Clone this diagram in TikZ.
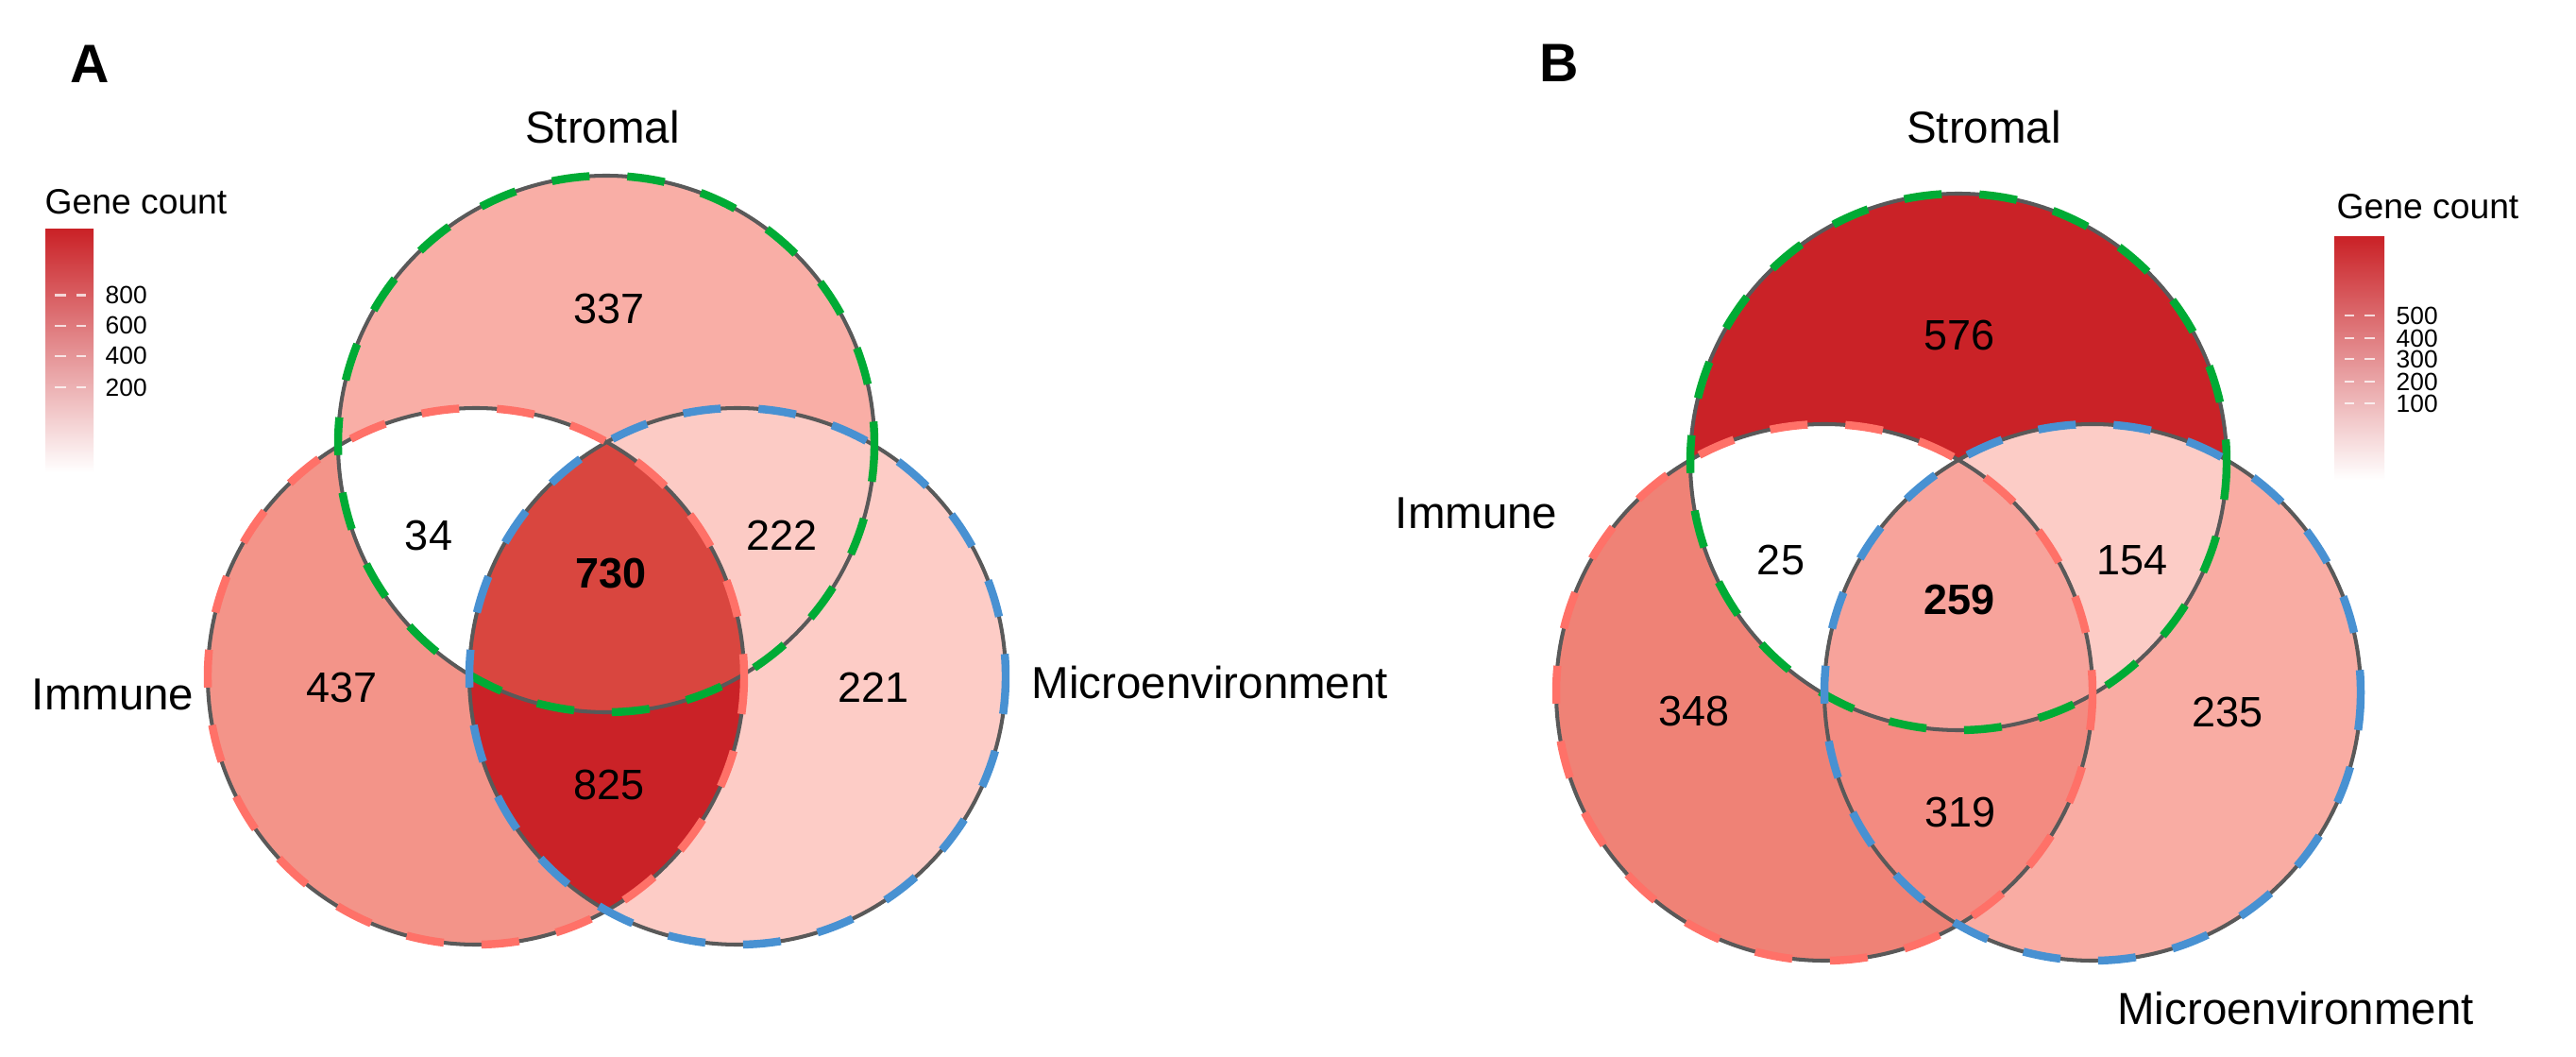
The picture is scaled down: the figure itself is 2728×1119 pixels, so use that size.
\documentclass[tikz,border=0pt]{standalone}
\usepackage{fontspec}
\setmainfont{Liberation Sans}
\usetikzlibrary{calc}

\definecolor{edgegrey}{HTML}{595959}
\definecolor{strgreen}{HTML}{00AB35}
\definecolor{immred}{HTML}{FF7168}
\definecolor{micblue}{HTML}{4891D2}
\definecolor{countmax}{HTML}{CA2227}
\definecolor{countmid}{HTML}{F08C82}
% region fills, panel A
\definecolor{aS}{HTML}{F9AEA6}
\definecolor{aI}{HTML}{F39489}
\definecolor{aM}{HTML}{FDCCC6}
\definecolor{aSM}{HTML}{FCCBC5}
\definecolor{aIM}{HTML}{CA2227}
\definecolor{aSIM}{HTML}{D9463F}
% region fills, panel B
\definecolor{bS}{HTML}{CA2227}
\definecolor{bI}{HTML}{EF8276}
\definecolor{bM}{HTML}{F9ACA3}
\definecolor{bSM}{HTML}{FCCCC6}
\definecolor{bIM}{HTML}{F38B81}
\definecolor{bSIM}{HTML}{F7A39B}

\def\fsize#1{\fontsize{#1}{#1}\selectfont}

\tikzset{
  rim/.style={draw=edgegrey, line width=1.15pt},
  rimdash/.style={draw=#1, line width=2.4pt, dash pattern=on 0.4cm off 0.4cm},
  setlabel/.style={font=\fsize{13.5}, inner sep=0pt},
  count/.style={font=\fsize{12.8}, inner sep=0pt},
  panel/.style={font=\bfseries\fsize{16.3}, inner sep=0pt},
  legtitle/.style={font=\fsize{10.6}, inner sep=0pt},
  ticklab/.style={font=\fsize{7.5}, anchor=west, inner sep=0pt},
  tickmark/.style={draw=white, line width=0.6pt, opacity=0.75}
}

\begin{document}
\begin{tikzpicture}[x=0.01cm, y=-0.01cm]
			%%%%% START %%%%%
			\fill[white] (0,0) rectangle (2728,1119);
			\useasboundingbox (0,0) rectangle (2728,1119);

			%%%%% PANEL A %%%%%
			\coordinate (sA) at (642,470);
			\coordinate (iA) at (504,716);
			\coordinate (mA) at (781,716);

			\fill[aS] (sA) circle (284);
			\fill[aI] (iA) circle (284);
			\fill[aM] (mA) circle (284);
			\begin{scope}
				\clip (iA) circle (284);
				\fill[aIM] (mA) circle (284);
			\end{scope}
			\begin{scope}
				\clip (sA) circle (284);
				\fill[white] (iA) circle (284);
				\fill[aSM] (mA) circle (284);
				\clip (iA) circle (284);
				\fill[aSIM] (mA) circle (284);
			\end{scope}

			\draw[rim] (sA) circle (284) (iA) circle (284) (mA) circle (284);
			\draw[rimdash=strgreen] (sA) circle (284);
			\draw[rimdash=immred] (iA) circle (284);
			\draw[rimdash=micblue] (mA) circle (284);

			\node[panel] (labA) at (95,68) {A};
			\node[setlabel] (strA) at (638,135) {Stromal};
			\node[setlabel, anchor=east] (immA) at (206,735) {Immune};
			\node[setlabel, anchor=west] (micA) at (1092,723) {Microenvironment};

			\node[count] (nA337) at (645,327) {337};
			\node[count] (nA34) at (454,567) {34};
			\node[count, font=\bfseries\fsize{12.8}] (nA730) at (647,607) {730};
			\node[count] (nA222) at (828,567) {222};
			\node[count] (nA437) at (362,728) {437};
			\node[count] (nA221) at (925,728) {221};
			\node[count] (nA825) at (645,831) {825};

			% legend A
			\node[legtitle] (legA) at (144,214) {Gene count};
			\shade[bottom color=white, middle color=countmid, top color=countmax] (48,243) rectangle (99,500);
			\foreach \yy/\lab in {312.5/800, 344.6/600, 376.8/400, 410/200}{
				\draw[tickmark] (58,\yy) -- (70,\yy) (81,\yy) -- (91,\yy);
				\node[ticklab] (tA\lab) at (111,\yy) {\lab};
			}

			%%%%% PANEL B %%%%%
			\coordinate (sB) at (2074,489);
			\coordinate (iB) at (1932,733);
			\coordinate (mB) at (2216,733);

			\fill[bS] (sB) circle (284);
			\fill[bI] (iB) circle (284);
			\fill[bM] (mB) circle (284);
			\begin{scope}
				\clip (iB) circle (284);
				\fill[bIM] (mB) circle (284);
			\end{scope}
			\begin{scope}
				\clip (sB) circle (284);
				\fill[white] (iB) circle (284);
				\fill[bSM] (mB) circle (284);
				\clip (iB) circle (284);
				\fill[bSIM] (mB) circle (284);
			\end{scope}

			\draw[rim] (sB) circle (284) (iB) circle (284) (mB) circle (284);
			\draw[rimdash=strgreen] (sB) circle (284);
			\draw[rimdash=immred] (iB) circle (284);
			\draw[rimdash=micblue] (mB) circle (284);

			\node[panel] (labB) at (1651,67) {B};
			\node[setlabel] (strB) at (2101,135) {Stromal};
			\node[setlabel, anchor=east] (immB) at (1650,543) {Immune};
			\node[setlabel] (micB) at (2431,1068) {Microenvironment};

			\node[count] (nB576) at (2075,355) {576};
			\node[count] (nB25) at (1886,593) {25};
			\node[count, font=\bfseries\fsize{12.8}] (nB259) at (2075,635) {259};
			\node[count] (nB154) at (2258,593) {154};
			\node[count] (nB348) at (1794,753) {348};
			\node[count] (nB235) at (2359,754) {235};
			\node[count] (nB319) at (2076,860) {319};

			% legend B
			\node[legtitle] (legB) at (2571,219) {Gene count};
			\shade[bottom color=white, middle color=countmid, top color=countmax] (2472,251) rectangle (2525,508);
			\foreach \yy/\lab in {334/500, 358/400, 380/300, 404/200, 427/100}{
				\draw[tickmark] (2483,\yy) -- (2493,\yy) (2504,\yy) -- (2515,\yy);
				\node[ticklab] (tB\lab) at (2537,\yy) {\lab};
			}
			%%%%% END %%%%%
\end{tikzpicture}
\end{document}
